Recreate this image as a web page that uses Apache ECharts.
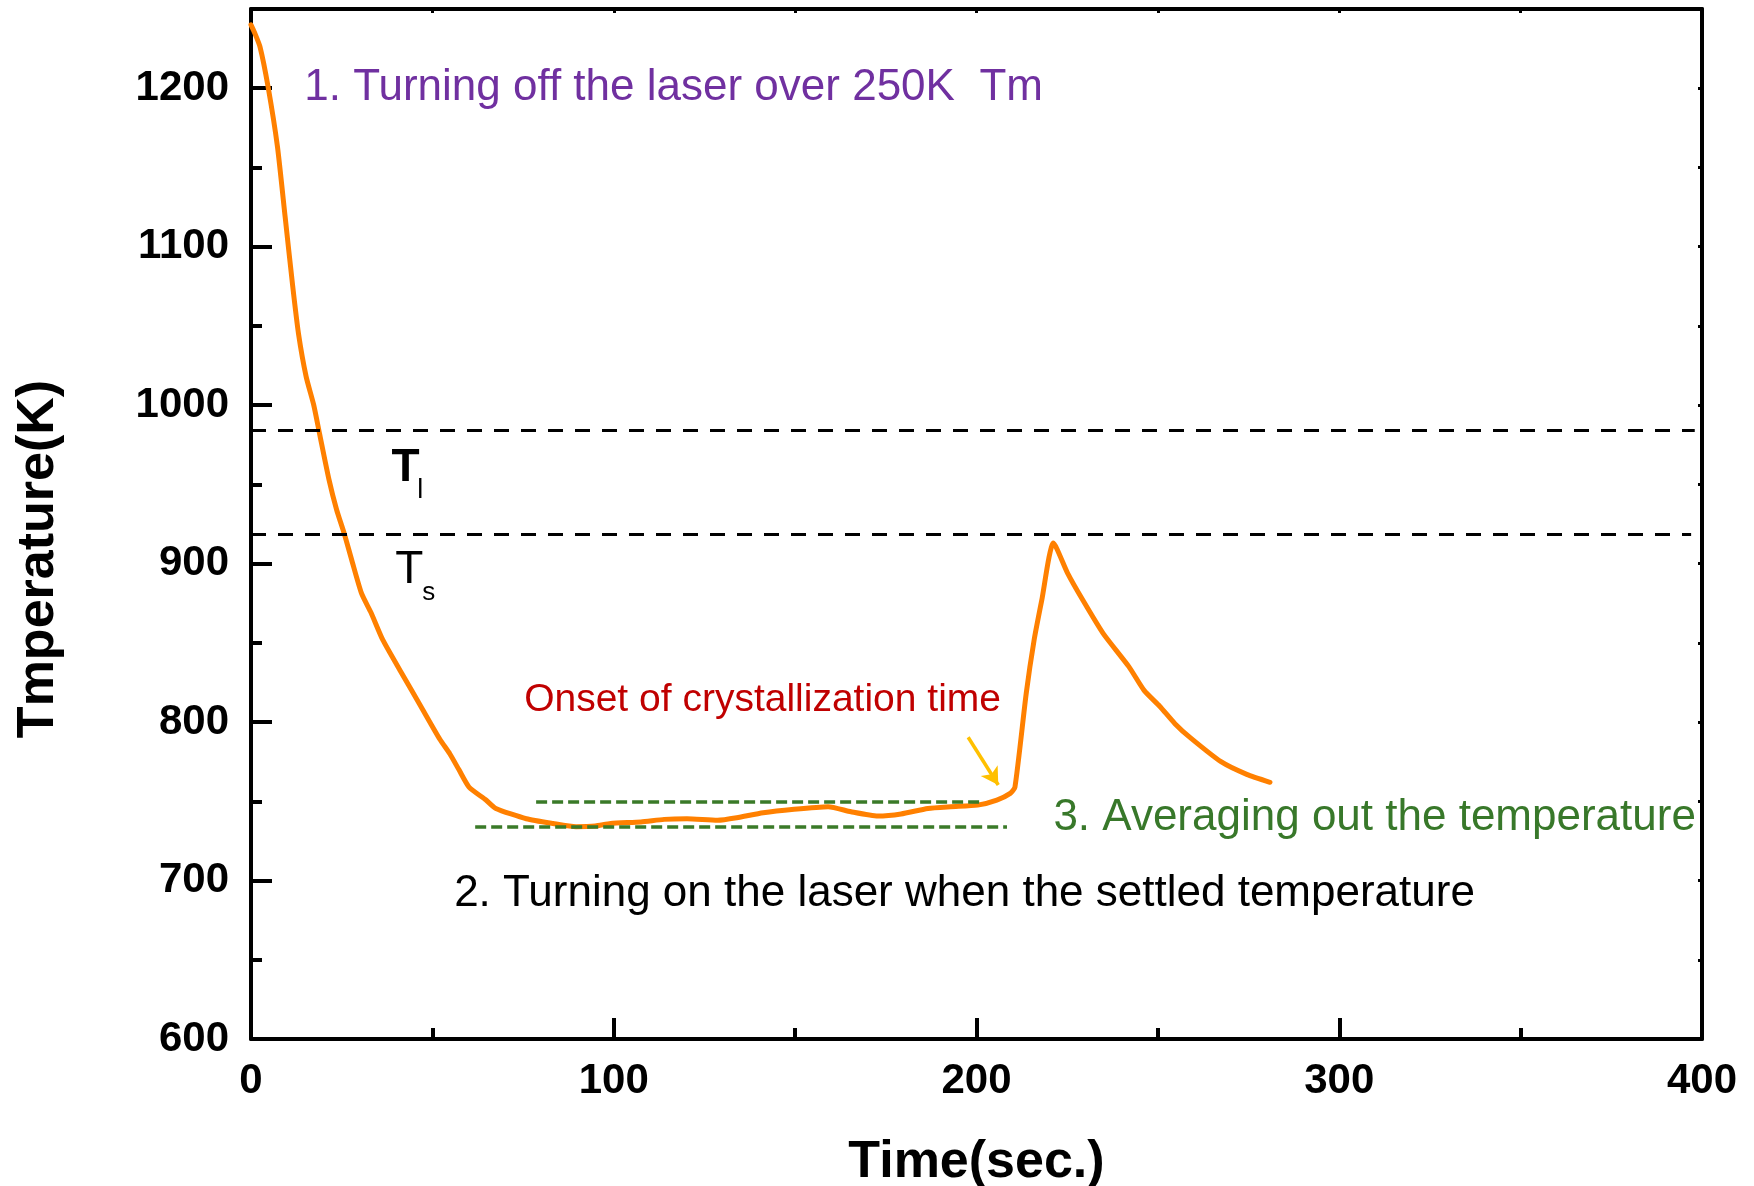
<!DOCTYPE html>
<html>
<head>
<meta charset="utf-8">
<title>Cooling curve</title>
<script src="https://cdn.jsdelivr.net/npm/echarts@6/dist/echarts.min.js"></script>
<style>
  html, body { margin: 0; padding: 0; background: #ffffff; }
  #chart { width: 1754px; height: 1186px; }
</style>
</head>
<body>
<div id="chart"></div>
<script>
// Measured temperature trace: time (s) and temperature (K)
const timeSec = [
  0, 1, 2.5, 4.7, 7.3, 9.4, 11.5, 13.1, 15.2, 17.3, 18.9, 21.5, 23.6, 25.7, 27.8,
  30.5, 33.1, 36.3, 41.5, 46.8, 52.1, 54.8, 57.3, 60.1, 64.7, 67.5, 75.9, 83.3,
  89.6, 94.9, 99.1, 107.5, 113.9, 120.2, 128.6, 133.9, 141.2, 149.7, 159.1, 165.4,
  172.8, 179.2, 186.6, 192.9, 200.3, 205.6, 209.3, 210.6, 213.7, 215.9, 218, 221.2,
  225.1, 229.3, 234.9, 242, 246.2, 250.5, 254.7, 259, 267.4, 274.5, 280.9
];
const tempK = [
  1240, 1235, 1226, 1201, 1163, 1119, 1075, 1045, 1018, 1000, 982, 953, 934, 919, 902,
  881, 869, 852, 831, 810, 789, 780, 770, 759, 751, 745.5, 739, 736,
  734, 734.4, 736, 737, 738.6, 739, 738, 739.6, 742.8, 745, 746.6, 743.4,
  740.7, 742, 745.5, 746.6, 747.6, 750.8, 755, 759, 818, 852, 877, 913,
  894, 877, 856, 835, 820, 810, 799, 790, 775, 767, 762
];

// Reference temperatures (K)
const liquidusK = 984;
const solidusK = 918.5;

// Settled-temperature band (K) and its time span (s)
const bandUpperK = 750;
const bandUpperSpan = [78.6, 201];
const bandLowerK = 734;
const bandLowerSpan = [61.8, 208.4];

// Onset-of-crystallization pointer: [time, temperature] tail and head
const onsetTail = [197.7, 790.4];
const onsetHead = [206.0, 760.3];

// Axis ranges and tick labels
const timeRange = [0, 400];
const tempRange = [600, 1250];
const tempTickLabels = [600, 700, 800, 900, 1000, 1100, 1200];

const tickFont = { fontFamily: 'Liberation Sans, Arial, sans-serif', fontWeight: 'bold', fontSize: 42, color: '#000' };
const frame = { show: true, lineStyle: { color: '#000', width: 4 } };

function note(pos, text, style) {
  return {
    value: pos,
    itemStyle: { opacity: 1 },
    label: Object.assign({
      show: true, formatter: text, position: [0, 0], align: 'left', verticalAlign: 'middle',
      fontFamily: 'Liberation Sans, Arial, sans-serif', fontSize: 44, color: '#000', opacity: 1
    }, style)
  };
}

const notes = [
  note([14.7, 1200.5], '1. Turning off the laser over 250K  Tm', { color: '#7030a0' }),
  note([56.0, 691.4], '2. Turning on the laser when the settled temperature', { color: '#000000' }),
  note([221.2, 739.3], '3. Averaging out the temperature', { color: '#38782a' }),
  note([75.3, 814], 'Onset of crystallization time', { color: '#c00000', fontSize: 39 }),
  note([38.7, 960.4], 'T', { fontWeight: 'bold', fontSize: 46 }),
  note([45.8, 946.1], 'l', { fontSize: 27 }),
  note([39.8, 896], 'T', { fontSize: 46 }),
  note([47.2, 881.5], 's', { fontSize: 26 })
];

const chart = echarts.init(document.getElementById('chart'), null, { renderer: 'canvas' });

chart.setOption({
  animation: false,
  backgroundColor: '#ffffff',
  grid: { left: 251, right: 52, top: 9, bottom: 147, containLabel: false, outerBoundsMode: 'none' },
  xAxis: [
    {
      type: 'value', position: 'bottom', min: timeRange[0], max: timeRange[1], interval: 100,
      axisLine: frame,
      axisTick: { show: true, inside: true, length: 21, lineStyle: { color: '#000', width: 4 } },
      minorTick: { show: true, splitNumber: 2, length: 11, lineStyle: { color: '#000', width: 4 } },
      splitLine: { show: false }, minorSplitLine: { show: false },
      axisLabel: Object.assign({ margin: 21 }, tickFont),
      name: 'Time(sec.)', nameLocation: 'middle', nameGap: 98,
      nameTextStyle: { fontFamily: 'Liberation Sans, Arial, sans-serif', fontWeight: 'bold', fontSize: 52, color: '#000' }
    },
    {
      type: 'value', position: 'top', min: timeRange[0], max: timeRange[1], interval: 50,
      axisLine: frame,
      axisTick: { show: true, inside: true, length: 4, lineStyle: { color: '#000', width: 3 } },
      axisLabel: { show: false }, splitLine: { show: false }
    }
  ],
  yAxis: [
    {
      type: 'value', position: 'left', min: tempRange[0], max: tempRange[1], interval: 50,
      axisLine: frame,
      axisTick: { show: true, inside: true, length: 11, lineStyle: { color: '#000', width: 4 } },
      splitLine: { show: false },
      axisLabel: Object.assign({
        margin: 22, padding: [0, 0, 10, 0],
        formatter: v => (tempTickLabels.indexOf(v) >= 0 ? String(v) : '')
      }, tickFont),
      name: 'Tmperature(K)', nameLocation: 'middle', nameGap: 186,
      nameTextStyle: { fontFamily: 'Liberation Sans, Arial, sans-serif', fontWeight: 'bold', fontSize: 52, color: '#000', padding: [0, 70, 0, 0] }
    },
    {
      type: 'value', position: 'left', min: tempRange[0], max: tempRange[1], interval: 100,
      axisLine: { show: false },
      axisTick: { show: true, inside: true, length: 21, lineStyle: { color: '#000', width: 4 } },
      axisLabel: { show: false }, splitLine: { show: false }
    },
    {
      type: 'value', position: 'right', min: tempRange[0], max: tempRange[1], interval: 50,
      axisLine: frame,
      axisTick: { show: true, inside: true, length: 4, lineStyle: { color: '#000', width: 3 } },
      axisLabel: { show: false }, splitLine: { show: false }
    }
  ],
  series: [
    {
      name: 'Temperature', type: 'line', xAxisIndex: 0, yAxisIndex: 0, z: 3,
      data: timeSec.map((t, i) => [t, tempK[i]]),
      showSymbol: false, symbol: 'none', smooth: 0.2,
      lineStyle: { color: '#ff8000', width: 5, join: 'round', cap: 'round' }
    },
    {
      name: 'Reference lines', type: 'line', xAxisIndex: 0, yAxisIndex: 0, z: 4, data: [],
      markLine: {
        silent: true, symbol: 'none', label: { show: false }, animation: false,
        emphasis: { disabled: true },
        data: [
          [{ coord: [timeRange[0], liquidusK], lineStyle: { color: '#000', width: 3, type: [15, 12] } }, { coord: [398, liquidusK] }],
          [{ coord: [timeRange[0], solidusK], lineStyle: { color: '#000', width: 3, type: [15, 12] } }, { coord: [397, solidusK] }],
          [{ coord: [bandUpperSpan[0], bandUpperK], lineStyle: { color: '#3a7a28', width: 3.5, type: [11, 5] } }, { coord: [bandUpperSpan[1], bandUpperK] }],
          [{ coord: [bandLowerSpan[0], bandLowerK], lineStyle: { color: '#3a7a28', width: 3.5, type: [11, 5] } }, { coord: [bandLowerSpan[1], bandLowerK] }]
        ]
      }
    },
    {
      name: 'Onset pointer', type: 'line', xAxisIndex: 0, yAxisIndex: 0, z: 5, data: [],
      markLine: {
        silent: true, symbol: ['none', 'arrow'], symbolSize: [15, 17], label: { show: false }, animation: false,
        emphasis: { disabled: true },
        lineStyle: { color: '#ffc000', width: 3.5, type: 'solid' },
        itemStyle: { color: '#ffc000' },
        data: [[{ coord: onsetTail }, { coord: onsetHead }]]
      }
    },
    {
      name: 'Notes', type: 'scatter', xAxisIndex: 0, yAxisIndex: 0, z: 6,
      symbolSize: 0, silent: true, data: notes,
      itemStyle: { opacity: 1 },
      emphasis: { disabled: true }
    }
  ]
});
</script>
</body>
</html>
